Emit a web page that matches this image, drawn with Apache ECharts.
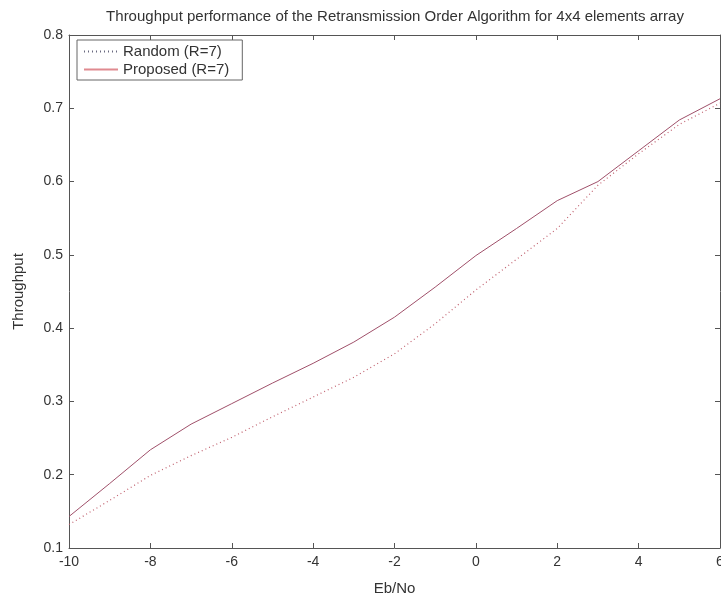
<!DOCTYPE html>
<html><head><meta charset="utf-8">
<script src="https://cdn.jsdelivr.net/npm/echarts@6/dist/echarts.min.js"></script>
<style>html,body{margin:0;padding:0;background:#fff}#c{width:721px;height:598px}</style>
</head><body><div id="c"></div>
<script>
const ebno = [-10,-9,-8,-7,-6,-5,-4,-3,-2,-1,0,1,2,3,4,5,6];
const randomR7 = [0.132,0.165,0.199,0.226,0.251,0.279,0.306,0.333,0.365,0.406,0.452,0.494,0.536,0.595,0.638,0.678,0.707];
const proposedR7 = [0.143,0.188,0.234,0.269,0.297,0.325,0.352,0.381,0.415,0.456,0.499,0.536,0.574,0.600,0.642,0.684,0.713];
const xTicks = [-10,-8,-6,-4,-2,0,2,4,6];
const yTicks = [0.1,0.2,0.3,0.4,0.5,0.6,0.7,0.8];

const font = 'Liberation Sans, Arial, sans-serif';
const axisColor = '#555';
const textColor = '#333';
const chart = echarts.init(document.getElementById('c'));
const pair = (a,b)=>a.map((v,i)=>[v,b[i]]);
const tick = {show:true,inside:true,length:5,lineStyle:{color:axisColor}};
chart.setOption({
  animation:false,
  backgroundColor:'#fff',
  title:{text:'Throughput performance of the Retransmission Order Algorithm for 4x4 elements array',
    left:390, textAlign:'center', top:4,
    textStyle:{fontFamily:font,fontSize:15,fontWeight:'normal',color:textColor}},
  legend:{left:77, top:40, orient:'vertical', itemWidth:34, itemHeight:14, itemGap:3,
    borderColor:'#666', borderWidth:1, padding:[4,13,3,6], backgroundColor:'#fff',
    itemStyle:{opacity:0},
    textStyle:{fontFamily:font,fontSize:15,color:textColor},
    data:[{name:'Random (R=7)', lineStyle:{color:'#6a6a80'}},
          {name:'Proposed (R=7)', lineStyle:{color:'#e08a90'}}]},
  grid:{left:69, top:35, right:1, bottom:50, outerBoundsMode:'none', containLabel:false},
  xAxis:[{type:'value', min:xTicks[0], max:xTicks[xTicks.length-1], interval:2, position:'bottom',
    name:'Eb/No', nameLocation:'middle', nameGap:33,
    nameTextStyle:{fontFamily:font,fontSize:15,color:textColor},
    axisLine:{onZero:false,lineStyle:{color:axisColor}}, axisTick:tick,
    axisLabel:{fontFamily:font,fontSize:14,color:textColor,margin:7, showMaxLabel:true, showMinLabel:true},
    splitLine:{show:false}},
   {type:'value', min:xTicks[0], max:xTicks[xTicks.length-1], interval:2, position:'top',
    axisLine:{onZero:false,lineStyle:{color:axisColor}}, axisTick:tick,
    axisLabel:{show:false}, splitLine:{show:false}}],
  yAxis:[{type:'value', min:yTicks[0], max:yTicks[yTicks.length-1], interval:0.1, position:'left',
    name:'Throughput', nameLocation:'middle', nameGap:43,
    nameTextStyle:{fontFamily:font,fontSize:15,color:textColor},
    axisLine:{show:true,onZero:false,lineStyle:{color:axisColor}}, axisTick:tick,
    axisLabel:{fontFamily:font,fontSize:14,color:textColor,margin:6,formatter:v=>(Math.round(v*10)/10).toString()},
    splitLine:{show:false}},
   {type:'value', min:yTicks[0], max:yTicks[yTicks.length-1], interval:0.1, position:'right',
    axisLine:{show:true,onZero:false,lineStyle:{color:axisColor}}, axisTick:tick,
    axisLabel:{show:false}, splitLine:{show:false}}],
  series:[
    {name:'Random (R=7)', type:'line', data:pair(ebno,randomR7), symbol:'none', smooth:false,
      lineStyle:{type:[1,3],width:1.2,color:'#c0606e'}, itemStyle:{color:'#c0606e'}},
    {name:'Proposed (R=7)', type:'line', data:pair(ebno,proposedR7), symbol:'none', smooth:false,
      lineStyle:{type:'solid',width:1,color:'#a0506a'}, itemStyle:{color:'#a0506a'}}
  ]
});
</script></body></html>
